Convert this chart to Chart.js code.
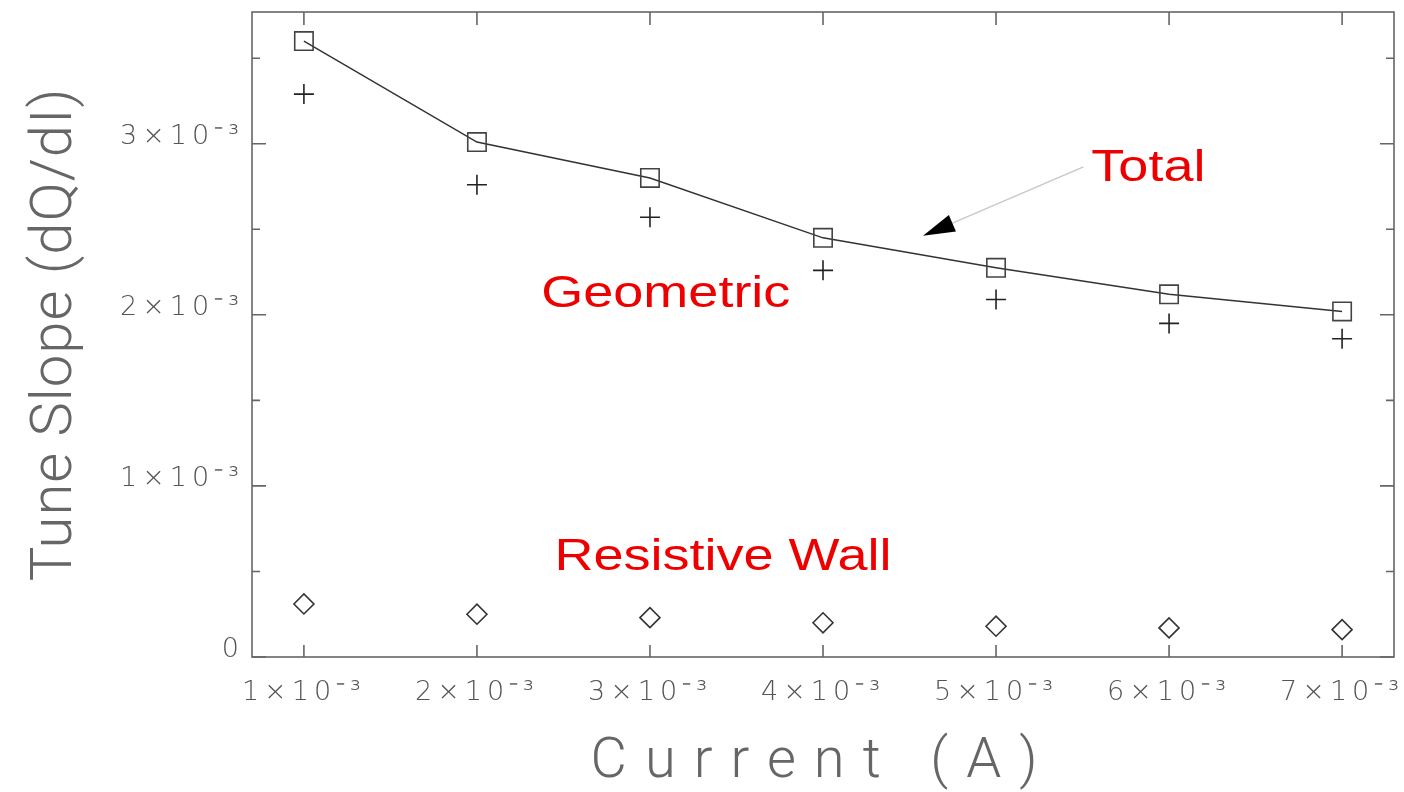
<!DOCTYPE html>
<html>
<head>
<meta charset="utf-8">
<script src="https://cdn.jsdelivr.net/npm/chart.js@4/dist/chart.umd.min.js"></script>
<style>
  html, body { margin: 0; padding: 0; background: #fff; }
  #wrap { width: 1404px; height: 792px; position: relative; }
</style>
</head>
<body>
<div id="wrap"><canvas id="tune"></canvas></div>
<script>
// values (A and dQ/dI)
const currents = [0.001, 0.002, 0.003, 0.004, 0.005, 0.006, 0.007];
const total = [0.00360, 0.00301, 0.00280, 0.00245, 0.002275, 0.00212, 0.00202];
const geometric = [0.00329, 0.00276, 0.00257, 0.00226, 0.00209, 0.00195, 0.00186];
const resistiveWall = [0.00031, 0.00025, 0.00023, 0.00020, 0.00018, 0.00017, 0.00016];

const labelTexts = ['Total', 'Geometric', 'Resistive Wall'];

function pts(ys) {
    return currents.map((c, i) => ({ x: c, y: ys[i] }));
}

function sciLabel(v) {
    const n = Math.round(v * 1000);
    if (Math.abs(v * 1000 - n) > 1e-6) return '';
    return n === 0 ? '0' : n + '×10⁻³';
}

// text spacing per scale (the original uses a wide plotter font)
const spacing = {
    x: { title: '18px', labels: '5px' },
    y: { title: '1px', labels: '5px' }
};

const spacingPlugin = {
    id: 'spacing',
    beforeDraw(chart) {
        for (const s of Object.values(chart.scales)) {
            if (s._spaced || !spacing[s.id]) continue;
            s._spaced = true;
            const sp = spacing[s.id];
            const dt = s.drawTitle, dl = s.drawLabels;
            s.drawTitle = function () {
                const old = this.ctx.letterSpacing;
                this.ctx.letterSpacing = sp.title;
                dt.apply(this, arguments);
                this.ctx.letterSpacing = old;
            };
            s.drawLabels = function () {
                const old = this.ctx.letterSpacing;
                this.ctx.letterSpacing = sp.labels;
                dl.apply(this, arguments);
                this.ctx.letterSpacing = old;
            };
        }
    }
};

// frame with inward ticks on all four sides
const framePlugin = {
    id: 'frame',
    afterDraw(chart) {
        const { ctx, chartArea: a, scales: { x, y } } = chart;
        ctx.save();
        ctx.strokeStyle = '#666';
        ctx.lineWidth = 1.6;
        ctx.strokeRect(a.left, a.top, a.right - a.left, a.bottom - a.top);
        ctx.beginPath();
        x.ticks.forEach(t => {
            const px = x.getPixelForValue(t.value);
            ctx.moveTo(px, a.bottom); ctx.lineTo(px, a.bottom - 12);
            ctx.moveTo(px, a.top); ctx.lineTo(px, a.top + 13);
        });
        y.ticks.forEach(t => {
            const py = y.getPixelForValue(t.value);
            const len = sciLabel(t.value) ? 14 : 8;
            ctx.moveTo(a.left, py); ctx.lineTo(a.left + len, py);
            ctx.moveTo(a.right, py); ctx.lineTo(a.right - len, py);
        });
        ctx.stroke();
        ctx.restore();
    }
};

// red series names and the arrow pointing at the Total curve
const notePlugin = {
    id: 'notes',
    afterDatasetsDraw(chart) {
        const { ctx, scales: { x, y } } = chart;
        const at = [[0.005551, 0.002784], [0.002372, 0.002047], [0.002448, 0.000509]];
        ctx.save();
        ctx.fillStyle = '#ee0000';
        ctx.font = '45px "Liberation Sans", Arial, sans-serif';
        ctx.textBaseline = 'alphabetic';
        labelTexts.forEach((t, i) => {
            ctx.save();
            ctx.translate(x.getPixelForValue(at[i][0]), y.getPixelForValue(at[i][1]));
            ctx.scale(1.2, 1);
            ctx.fillText(t, 0, 0);
            ctx.restore();
        });

        const x0 = x.getPixelForValue(0.005505), y0 = y.getPixelForValue(0.002865);
        const x1 = x.getPixelForValue(0.004578), y1 = y.getPixelForValue(0.002462);
        const ang = Math.atan2(y1 - y0, x1 - x0);
        const hl = 32, hw = 9;
        const bx = x1 - hl * Math.cos(ang), by = y1 - hl * Math.sin(ang);
        ctx.strokeStyle = '#c8c8c8';
        ctx.lineWidth = 1.5;
        ctx.beginPath();
        ctx.moveTo(x0, y0);
        ctx.lineTo(bx, by);
        ctx.stroke();
        ctx.fillStyle = '#000';
        ctx.beginPath();
        ctx.moveTo(x1, y1);
        ctx.lineTo(bx + hw * Math.sin(ang), by - hw * Math.cos(ang));
        ctx.lineTo(bx - hw * Math.sin(ang), by + hw * Math.cos(ang));
        ctx.closePath();
        ctx.fill();
        ctx.restore();
    }
};

const tickFont = { family: '"DejaVu Sans"', weight: '200', size: 27 };

new Chart(document.getElementById('tune'), {
    type: 'scatter',
    data: {
        datasets: [{
            label: 'Total',
            data: pts(total),
            showLine: true,
            borderColor: '#333',
            borderWidth: 1.5,
            pointStyle: 'rect',
            pointRadius: 13,
            pointBorderColor: '#444',
            pointBorderWidth: 1.6,
            pointBackgroundColor: 'rgba(0,0,0,0)'
        }, {
            label: 'Geometric',
            data: pts(geometric),
            pointStyle: 'cross',
            pointRadius: 10,
            pointBorderColor: '#222',
            pointBorderWidth: 1.6
        }, {
            label: 'Resistive Wall',
            data: pts(resistiveWall),
            pointStyle: 'rectRot',
            pointRadius: 10,
            pointBorderColor: '#333',
            pointBorderWidth: 1.6,
            pointBackgroundColor: 'rgba(0,0,0,0)'
        }]
    },
    options: {
        responsive: true,
        maintainAspectRatio: false,
        animation: false,
        layout: { autoPadding: false, padding: { top: 12, right: 10, left: 0, bottom: 0 } },
        plugins: { legend: false, tooltip: { enabled: false } },
        scales: {
            x: {
                type: 'linear',
                min: 0.0007,
                max: 0.0073,
                afterFit: s => { s.height = 135; s.paddingLeft = 0; s.paddingRight = 0; },
                grid: { display: false, drawTicks: false },
                border: { display: false },
                ticks: {
                    stepSize: 0.001,
                    includeBounds: false,
                    autoSkip: false,
                    maxRotation: 0,
                    padding: 20,
                    color: '#555',
                    font: tickFont,
                    callback: v => sciLabel(v)
                },
                title: {
                    display: true,
                    text: 'Current (A)',
                    color: '#666',
                    font: { family: 'Roboto', weight: '300', size: 56, lineHeight: 1 },
                    padding: { top: 0, bottom: 1 }
                }
            },
            y: {
                min: 0,
                max: 0.00377,
                afterFit: s => { s.width = 252; s.paddingTop = 0; s.paddingBottom = 0; },
                grid: { display: false, drawTicks: false },
                border: { display: false },
                ticks: {
                    stepSize: 0.0005,
                    includeBounds: false,
                    autoSkip: false,
                    padding: 8,
                    labelOffset: -7,
                    color: '#555',
                    font: tickFont,
                    callback: v => sciLabel(v)
                },
                title: {
                    display: true,
                    text: 'Tune Slope (dQ/dI)',
                    color: '#666',
                    font: { family: 'Roboto', weight: '300', size: 58, lineHeight: 1.2 },
                    padding: { top: 22, bottom: 0 }
                }
            }
        }
    },
    plugins: [spacingPlugin, framePlugin, notePlugin]
});
</script>
</body>
</html>
